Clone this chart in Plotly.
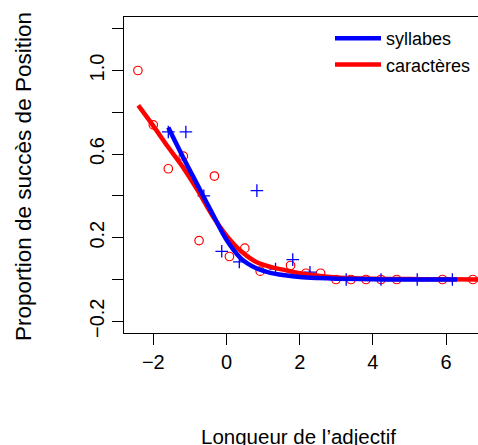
import plotly.graph_objects as go

# Observed points
car_x = [-2.42, -2.0, -1.59, -1.18, -0.75, -0.33, 0.08, 0.5, 0.92, 1.75, 2.17, 2.57,
         2.99, 3.40, 3.81, 4.22, 4.65, 5.90, 6.73]
car_y = [1.0, 0.74, 0.53, 0.59, 0.186, 0.495, 0.11, 0.15, 0.04, 0.067, 0.03, 0.03,
         0.0, 0.0, 0.0, 0.0, 0.0, 0.0, 0.0]

syl_x = [-1.59, -1.11, -0.62, -0.13, 0.35, 0.83, 1.34, 1.81, 2.28, 3.27, 4.22, 5.21, 6.17]
syl_y = [0.706, 0.706, 0.40, 0.135, 0.084, 0.425, 0.05, 0.095, 0.035, 0.0, 0.0, 0.0, 0.0]

# Fitted curves
car_fit_x = [-2.41, -2.0, -1.6, -1.2, -0.8, -0.4, 0.0, 0.4, 0.8, 1.2, 1.6, 2.0, 2.5, 3.0,
             4.0, 5.0, 6.0, 6.9]
car_fit_y = [0.833, 0.735, 0.635, 0.54, 0.43, 0.31, 0.21, 0.135, 0.085, 0.06, 0.045, 0.03,
             0.018, 0.01, 0.004, 0.002, 0.001, 0.0]

syl_fit_x = [-1.59, -1.2, -0.8, -0.4, 0.0, 0.4, 0.8, 1.2, 1.6, 2.0, 2.5, 3.0, 4.0, 5.0, 6.3]
syl_fit_y = [0.727, 0.59, 0.455, 0.32, 0.19, 0.1, 0.055, 0.032, 0.02, 0.012, 0.007, 0.004,
             0.001, 0.0, 0.0]

x_ticks = [-2, 0, 2, 4, 6]
x_ticktext = ["\u22122", "0", "2", "4", "6"]
y_ticks = [-0.2, 0.2, 0.6, 1.0]
y_ticktext = ["\u22120.2", "0.2", "0.6", "1.0"]
y_minor = [0.0, 0.4, 0.8, 1.2]

RED = "#FF0000"
BLUE = "#0000FF"
FONT = "Liberation Sans, Arial, sans-serif"

# plot area in page px: x 124..478, y 17..333
L, T, B = 124, 17, 112
PW = 478 - 124
PH = 333 - 17

fig = go.Figure()
fig.add_trace(go.Scatter(x=car_x, y=car_y, mode="markers", showlegend=False,
                         hoverinfo="skip",
                         marker=dict(symbol="circle-open", size=8.5, color=RED,
                                     line=dict(width=1.2, color=RED))))
fig.add_trace(go.Scatter(x=syl_x, y=syl_y, mode="markers", showlegend=False,
                         hoverinfo="skip",
                         marker=dict(symbol="cross-thin-open", size=9, color=BLUE,
                                     line=dict(width=1.3, color=BLUE))))
fig.add_trace(go.Scatter(x=car_fit_x, y=car_fit_y, mode="lines", name="caract\u00e8res",
                         hoverinfo="skip",
                         legendrank=2, line=dict(color=RED, width=4.5, shape="spline")))
fig.add_trace(go.Scatter(x=syl_fit_x, y=syl_fit_y, mode="lines", name="syllabes",
                         hoverinfo="skip",
                         legendrank=1, line=dict(color=BLUE, width=4.5, shape="spline")))

fig.update_layout(
    width=478, height=445,
    margin=dict(l=L, r=0, t=T, b=B),
    paper_bgcolor="white", plot_bgcolor="white",
    font=dict(family=FONT, color="black", size=20),
    hovermode=False,
    legend=dict(x=(330 - 124) / PW, y=(333 - 20) / PH, xanchor="left", yanchor="top",
                bgcolor="rgba(0,0,0,0)", font=dict(size=18), tracegroupgap=0,
                itemwidth=46),
    xaxis=dict(range=[-2.80, 6.87], showgrid=False, zeroline=False,
               showline=True, linecolor="black", linewidth=1, mirror=True,
               ticks="outside", ticklen=11, tickcolor="black", tickwidth=1,
               tickvals=x_ticks, ticktext=x_ticktext, tickfont=dict(size=20)),
    yaxis=dict(range=[-0.256, 1.256], showgrid=False, zeroline=False,
               showline=True, linecolor="black", linewidth=1, mirror=False,
               ticks="outside", ticklen=11, tickcolor="black", tickwidth=1,
               tickvals=y_ticks, ticktext=y_ticktext, tickangle=-90,
               tickfont=dict(size=20),
               minor=dict(tickvals=y_minor, ticks="outside", ticklen=11,
                          tickcolor="black", tickwidth=1, showgrid=False)),
    annotations=[
        dict(text="Longueur de l\u2019adjectif", xref="paper", yref="paper",
             x=(298 - 124) / PW, y=(333 - 436) / PH, xanchor="center", yanchor="middle",
             showarrow=False, font=dict(size=20.5)),
        dict(text="Proportion de succ\u00e8s de Position", xref="paper", yref="paper",
             x=(23 - 124) / PW, y=(333 - 177) / PH, xanchor="center", yanchor="middle",
             textangle=-90, showarrow=False, font=dict(size=22.5)),
    ],
)

fig.write_html(
    "out.html",
    config={"displayModeBar": False},
    post_script="document.body.style.margin='0px';document.body.style.overflow='hidden';",
)
